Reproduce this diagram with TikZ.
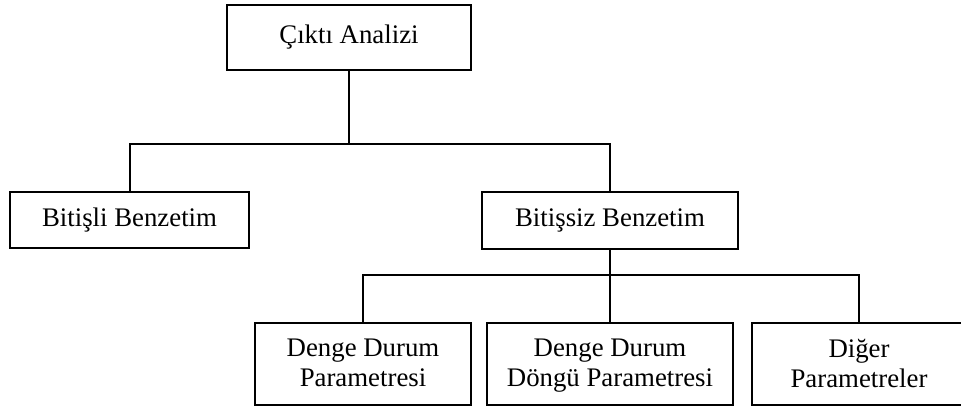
\documentclass[tikz,border=0pt]{standalone}
\usepackage{fontspec}
\setmainfont{Liberation Serif}
\begin{document}
\begin{tikzpicture}[x=1pt,y=-1pt,
  box/.style={draw,line width=2pt,inner sep=0pt,align=center,
    font=\fontsize{26.8}{30}\selectfont},
  link/.style={line width=2pt}]
\useasboundingbox (0,0) rectangle (961,410);
\clip (0,0) rectangle (961,410);
\fill[white] (0,0) rectangle (961,410);
% root
\node[box,minimum width=244pt,minimum height=65pt] (root) at (349,37.5) {Çıktı Analizi};
% second level
\node[box,minimum width=239pt,minimum height=56pt] (fin) at (129.5,220) {Bitişli Benzetim};
\node[box,minimum width=256pt,minimum height=57pt] (inf) at (610,220.5) {Bitişsiz Benzetim};
% third level
\node[box,minimum width=216pt,minimum height=82pt,text depth=2pt] (p1) at (363,364) {Denge Durum\\Parametresi};
\node[box,minimum width=246pt,minimum height=82pt,text depth=2pt] (p2) at (610,364) {Denge Durum\\Döngü Parametresi};
\node[box,minimum width=214pt,minimum height=82pt,text depth=2pt] (p3) at (859,364) {Diğer\\Parametreler};
% junctions
\coordinate (j1) at (root.south |- 0,144);
\coordinate (j2) at (inf.south |- 0,275);
\draw[link] (root.south) -- (j1);
\draw[link] (fin.north) |- (j1) -| (inf.north);
\draw[link] (inf.south) -- (j2);
\draw[link] (p1.north) |- (j2) -| (p3.north);
\draw[link] (j2) -- (p2.north);
\end{tikzpicture}
\end{document}
